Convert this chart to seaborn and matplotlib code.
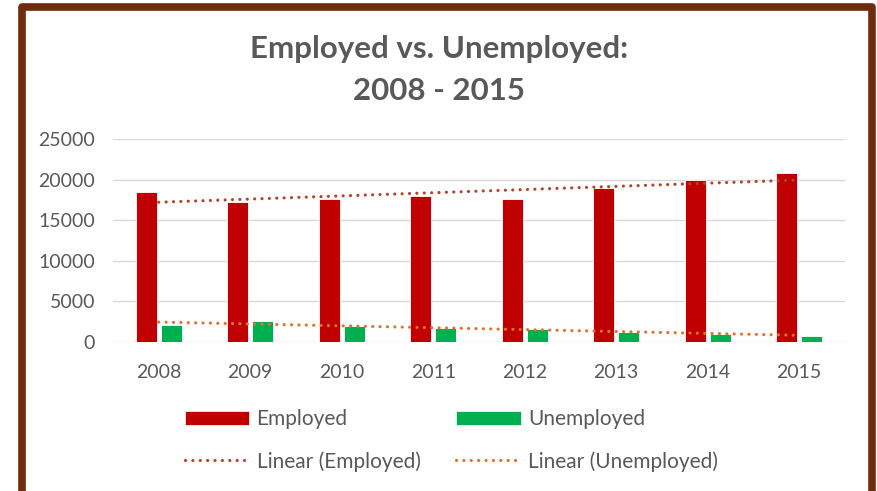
import matplotlib
matplotlib.use("Agg")
import matplotlib.pyplot as plt
import numpy as np
import pandas as pd
import seaborn as sns
from matplotlib.patches import Patch, Rectangle
from matplotlib.lines import Line2D

years = ["2008", "2009", "2010", "2011", "2012", "2013", "2014", "2015"]
employed = [18500, 17300, 17600, 18000, 17550, 19000, 19900, 20800]
unemployed = [2150, 2560, 1940, 1780, 1660, 1240, 990, 790]
yticks = [0, 5000, 10000, 15000, 20000, 25000]

RED = "#C00000"
GREEN = "#00B050"
TREND_EMP = "#B5432A"
TREND_UNEMP = "#E5702A"
TEXT = "#595959"
BORDER = "#6E2E0D"

sns.set_theme(style="white")
plt.rcParams["font.family"] = ["Lato", "DejaVu Sans"]

df = pd.DataFrame({
    "year": years * 2,
    "value": employed + unemployed,
    "series": ["Employed"] * len(years) + ["Unemployed"] * len(years),
})

fig = plt.figure(figsize=(8.78, 4.91), dpi=100)
ax = fig.add_axes([0.1287, 0.3035, 0.8337, 0.4134])

sns.barplot(data=df, x="year", y="value", hue="series",
            palette={"Employed": RED, "Unemployed": GREEN}, saturation=1,
            width=0.55, gap=0.16, edgecolor="white", linewidth=0.6,
            legend=False, ax=ax, zorder=3)

dots = (0, (0.01, 2.3))
xs = np.arange(len(years))
sns.regplot(x=xs, y=np.array(employed), scatter=False, ci=None, ax=ax,
            line_kws={"color": TREND_EMP, "lw": 2.3, "linestyle": dots,
                      "dash_capstyle": "round", "zorder": 4})
sns.regplot(x=xs, y=np.array(unemployed), scatter=False, ci=None, ax=ax,
            line_kws={"color": TREND_UNEMP, "lw": 2.3, "linestyle": dots,
                      "dash_capstyle": "round", "zorder": 4})

ax.set_xlim(-0.5, len(years) - 0.5)
ax.set_ylim(0, 25000)
ax.set_yticks(yticks)
ax.set_yticklabels([str(t) for t in yticks])
ax.set_xticks(xs)
ax.set_xticklabels(years)
ax.set_xlabel("")
ax.set_ylabel("")
ax.grid(axis="y", color="#D9D9D9", lw=1.0, zorder=0)
ax.set_axisbelow(True)
for s in ax.spines.values():
    s.set_visible(False)
ax.tick_params(axis="both", length=0, colors=TEXT, labelsize=14)
ax.tick_params(axis="y", pad=13)
ax.tick_params(axis="x", pad=16)

fig.text(0.5, 0.900, "Employed vs. Unemployed:", ha="center", va="center",
         fontsize=22.5, fontweight="bold", color=TEXT)
fig.text(0.5, 0.815, "2008 - 2015", ha="center", va="center",
         fontsize=22.5, fontweight="bold", color=TEXT)

handles = [
    Patch(facecolor=RED, edgecolor="white", lw=0.5),
    Line2D([0], [0], color=TREND_EMP, lw=2.3, linestyle=dots, dash_capstyle="round"),
    Patch(facecolor=GREEN, edgecolor="white", lw=0.5),
    Line2D([0], [0], color=TREND_UNEMP, lw=2.3, linestyle=dots, dash_capstyle="round"),
]
labels = ["Employed", "Linear (Employed)", "Unemployed", "Linear (Unemployed)"]
leg = fig.legend(handles, labels, ncol=2, loc="center", bbox_to_anchor=(0.514, 0.103),
                 frameon=False, fontsize=15, handlelength=3.1, handletextpad=0.35,
                 columnspacing=1.7, labelspacing=1.05)
for t in leg.get_texts():
    t.set_color(TEXT)

fig.patches.append(Rectangle((22 / 878, -0.01), 850 / 878, 1 - 6.5 / 491 + 0.01,
                             transform=fig.transFigure, fill=False,
                             edgecolor=BORDER, lw=5.5, joinstyle="round"))

fig.savefig("out.png", dpi=100)
